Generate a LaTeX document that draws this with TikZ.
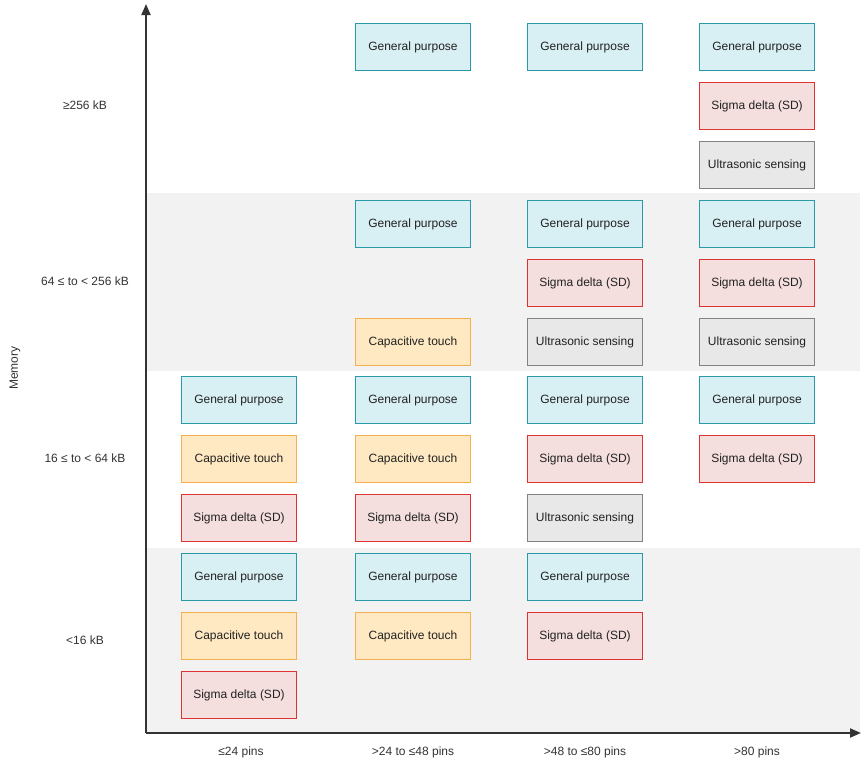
\documentclass[tikz,border=0pt]{standalone}
\usepackage{fontspec}
\setmainfont{Liberation Sans}
\usetikzlibrary{arrows.meta}
\definecolor{gpfill}{HTML}{D8EFF4}
\definecolor{gpline}{HTML}{2A9AA8}
\definecolor{sdfill}{HTML}{F4DEDE}
\definecolor{sdline}{HTML}{DD3333}
\definecolor{ctfill}{HTML}{FFE9C2}
\definecolor{ctline}{HTML}{F5AE52}
\definecolor{usfill}{HTML}{E8E8E8}
\definecolor{usline}{HTML}{828282}
\definecolor{bandgray}{HTML}{F2F2F2}
\definecolor{axisc}{HTML}{333333}
\definecolor{txt}{HTML}{222222}
\begin{document}
\begin{tikzpicture}[x=1pt,y=-1pt,
  cell/.style={minimum width=115pt,minimum height=47pt,inner sep=0pt,line width=1pt,font=\fontsize{12}{14}\selectfont,text=txt},
  gp/.style={cell,draw=gpline,fill=gpfill},
  sd/.style={cell,draw=sdline,fill=sdfill},
  ct/.style={cell,draw=ctline,fill=ctfill},
  us/.style={cell,draw=usline,fill=usfill},
  lab/.style={font=\fontsize{12}{14}\selectfont,text=axisc,inner sep=0pt},
  axisline/.style={line width=2pt,draw=axisc,-{Triangle[length=11pt,width=9pt]}}]
\useasboundingbox (0,0) rectangle (868,763);
\fill[bandgray] (146,193) rectangle (860,371);
\fill[bandgray] (146,548) rectangle (860,733);
% axes
\coordinate (o) at (146,733);
\coordinate (ytop) at (146,4);
\coordinate (xend) at (861,733);
\draw[axisline] (o) -- (ytop);
\draw[axisline] (o) -- (xend);
% row labels
\node[lab] (r1) at (85,105) {≥256 kB};
\node[lab] (r2) at (85,281) {64 ≤ to < 256 kB};
\node[lab] (r3) at (85,458) {16 ≤ to < 64 kB};
\node[lab] (r4) at (85,640) {<16 kB};
\node[lab,rotate=90] (mem) at (15,368) {Memory};
% column labels
\node[lab] (c1) at (241,752) {≤24 pins};
\node[lab] (c2) at (413,752) {>24 to ≤48 pins};
\node[lab] (c3) at (585,752) {>48 to ≤80 pins};
\node[lab] (c4) at (757,752) {>80 pins};
% column 1
\node[gp] (a31) at (239,400) {General purpose};
\node[ct] (a32) at (239,459) {Capacitive touch};
\node[sd] (a33) at (239,518) {Sigma delta (SD)};
\node[gp] (a41) at (239,577) {General purpose};
\node[ct] (a42) at (239,636) {Capacitive touch};
\node[sd] (a43) at (239,695) {Sigma delta (SD)};
% column 2
\node[gp] (b11) at (413,47) {General purpose};
\node[gp] (b21) at (413,224) {General purpose};
\node[ct] (b23) at (413,342) {Capacitive touch};
\node[gp] (b31) at (413,400) {General purpose};
\node[ct] (b32) at (413,459) {Capacitive touch};
\node[sd] (b33) at (413,518) {Sigma delta (SD)};
\node[gp] (b41) at (413,577) {General purpose};
\node[ct] (b42) at (413,636) {Capacitive touch};
% column 3
\node[gp] (c11) at (585,47) {General purpose};
\node[gp] (c21) at (585,224) {General purpose};
\node[sd] (c22) at (585,283) {Sigma delta (SD)};
\node[us] (c23) at (585,342) {Ultrasonic sensing};
\node[gp] (c31) at (585,400) {General purpose};
\node[sd] (c32) at (585,459) {Sigma delta (SD)};
\node[us] (c33) at (585,518) {Ultrasonic sensing};
\node[gp] (c41) at (585,577) {General purpose};
\node[sd] (c42) at (585,636) {Sigma delta (SD)};
% column 4
\node[gp] (d11) at (757,47) {General purpose};
\node[sd] (d12) at (757,106) {Sigma delta (SD)};
\node[us] (d13) at (757,165) {Ultrasonic sensing};
\node[gp] (d21) at (757,224) {General purpose};
\node[sd] (d22) at (757,283) {Sigma delta (SD)};
\node[us] (d23) at (757,342) {Ultrasonic sensing};
\node[gp] (d31) at (757,400) {General purpose};
\node[sd] (d32) at (757,459) {Sigma delta (SD)};
\end{tikzpicture}
\end{document}
